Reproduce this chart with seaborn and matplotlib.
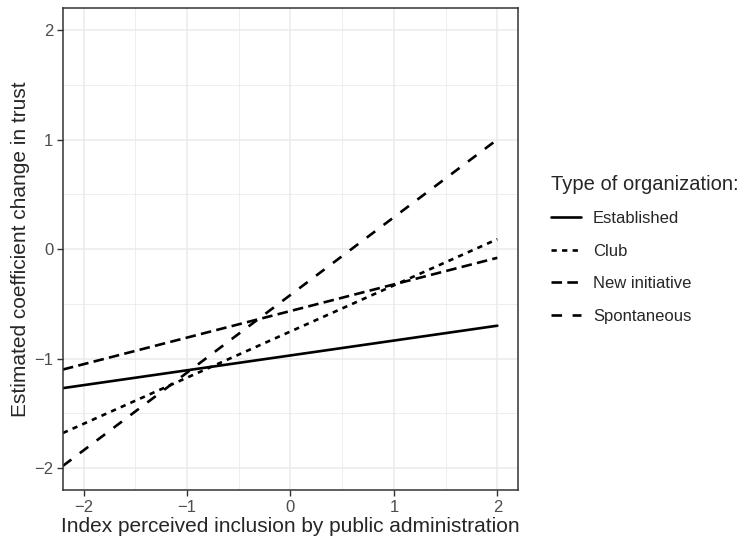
import pandas as pd
import seaborn as sns
import matplotlib.pyplot as plt
from matplotlib.ticker import MultipleLocator

# values (line ends at x=-2.2 and x=2)
groups = ['Established', 'Club', 'New initiative', 'Spontaneous']
x_ends = [-2.2, 2.0]
established = [-1.27, -0.70]
club = [-1.68, 0.09]
new_initiative = [-1.10, -0.08]
spontaneous = [-1.98, 1.00]
tick_vals = [-2, -1, 0, 1, 2]
tick_labels = ['\u22122', '\u22121', '0', '1', '2']

rows = []
for name, vals in zip(groups, [established, club, new_initiative, spontaneous]):
    for x, y in zip(x_ends, vals):
        rows.append({'x': x, 'y': y, 'Type of organization:': name})
df = pd.DataFrame(rows)

sns.set_style('white')
plt.rcParams['font.family'] = ['Liberation Sans', 'DejaVu Sans']

fig = plt.figure(figsize=(7.4, 5.42), dpi=100)
ax = fig.add_axes([0.085, 0.096, 0.615, 0.889])

dash_map = {'Established': '', 'Club': (2, 2), 'New initiative': (4, 2), 'Spontaneous': (4, 4)}
sns.lineplot(data=df, x='x', y='y', style='Type of organization:', dashes=dash_map,
             color='black', linewidth=1.9, ax=ax, legend=True)

ax.set_xlim(-2.2, 2.2)
ax.set_ylim(-2.2, 2.2)
ax.xaxis.set_minor_locator(MultipleLocator(0.5))
ax.yaxis.set_minor_locator(MultipleLocator(0.5))
ax.set_xticks(tick_vals)
ax.set_yticks(tick_vals)
ax.set_xticklabels(tick_labels)
ax.set_yticklabels(tick_labels)
ax.grid(which='major', color='#ebebeb', linewidth=1.1)
ax.grid(which='minor', color='#ebebeb', linewidth=0.6)
ax.set_axisbelow(True)
for s in ax.spines.values():
    s.set_color('#333333')
    s.set_linewidth(1.1)
ax.tick_params(which='major', direction='out', length=4, width=1, color='#333333',
               labelsize=12, labelcolor='#4d4d4d', left=True, bottom=True, pad=3)
ax.tick_params(which='minor', length=0)
ax.set_xlabel('Index perceived inclusion by public administration', fontsize=15, labelpad=2)
ax.set_ylabel('Estimated coefficient change in trust', fontsize=15, labelpad=3)

handles, labels = ax.get_legend_handles_labels()
ax.legend(handles, labels, title='Type of organization:', loc='center left',
          bbox_to_anchor=(1.04, 0.50), frameon=False, fontsize=12, title_fontsize=14.5,
          handlelength=1.8, handletextpad=0.7, labelspacing=1.05, alignment='left')

fig.savefig('out.png', dpi=100)
